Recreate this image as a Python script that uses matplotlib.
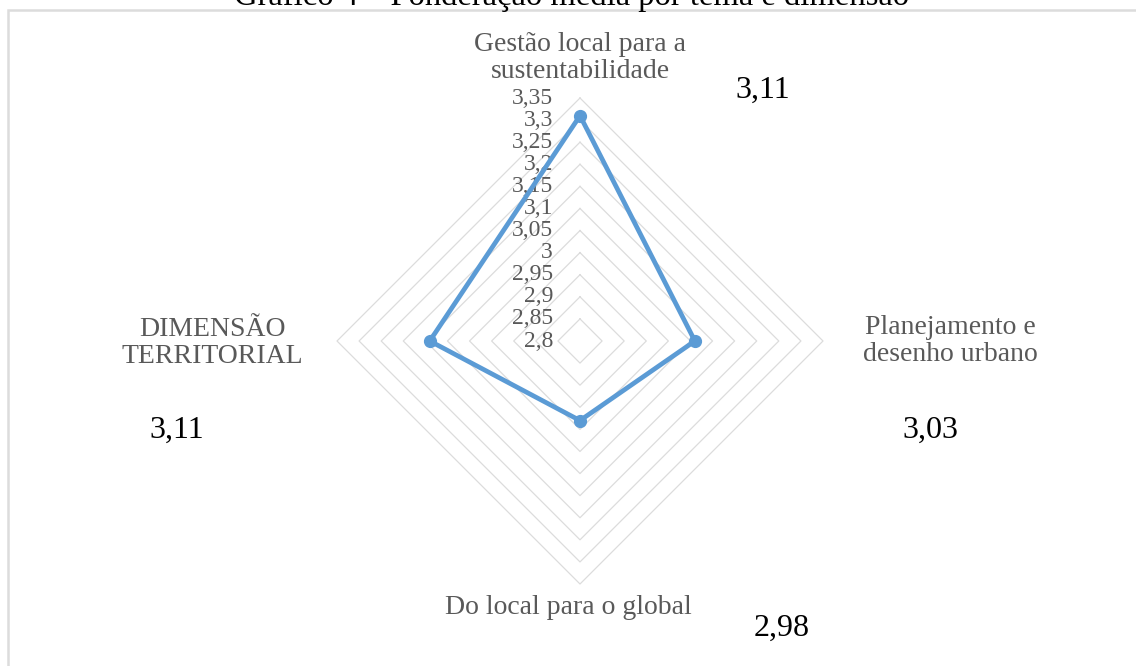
import matplotlib

matplotlib.use("Agg")
import matplotlib.pyplot as plt
import numpy as np
from matplotlib.patches import Rectangle

plt.rcParams["font.family"] = ["Liberation Serif", "DejaVu Serif"]

# mean score per theme (radar axes go clockwise from the top)
categories = [
    "Gestão local para a\nsustentabilidade",
    "Planejamento e\ndesenho urbano",
    "Do local para o global",
    "DIMENSÃO\nTERRITORIAL",
]
scores = [3.31, 3.06, 2.98, 3.14]
value_notes = ["3,11", "3,03", "2,98", "3,11"]
ring_levels = [2.80, 2.85, 2.90, 2.95, 3.00, 3.05, 3.10, 3.15, 3.20, 3.25, 3.30, 3.35]
ring_labels = ["2,8", "2,85", "2,9", "2,95", "3", "3,05", "3,1", "3,15", "3,2", "3,25", "3,3", "3,35"]
title = "Gráfico 4 – Ponderação média por tema e dimensão"

R_MIN, R_MAX = ring_levels[0], ring_levels[-1]
GRID = "#dcdcdc"
LINE = "#5b9bd5"
LABEL = "#595959"

W, H = 1136, 666
fig = plt.figure(figsize=(W / 100, H / 100), dpi=100)


def fpos(x, y):
    """pixel position (from top-left) -> figure fraction"""
    return x / W, 1 - y / H


# radar axes: centre at (580, 341) px, outer ring 243 px away
cx, cy, rad = 580, 341, 243
ax = fig.add_axes([(cx - rad) / W, 1 - (cy + rad) / H, 2 * rad / W, 2 * rad / H])
span = R_MAX - R_MIN
ax.set_xlim(-span, span)
ax.set_ylim(-span, span)
ax.set_aspect("equal")
ax.axis("off")

angles = np.deg2rad([90, 0, -90, 180])
ca, sa = np.cos(angles), np.sin(angles)

# diamond grid rings
for lv in ring_levels[1:]:
    r = lv - R_MIN
    ax.plot(np.append(r * ca, r * ca[0]), np.append(r * sa, r * sa[0]),
            color=GRID, lw=0.9, zorder=1, clip_on=False)

# ring value labels on the vertical axis
for lv, lab in zip(ring_levels, ring_labels):
    ax.text(-0.061, lv - R_MIN, lab, ha="right", va="center", fontsize=17,
            color=LABEL, zorder=2)

# series
r = np.array(scores) - R_MIN
xs, ys = r * ca, r * sa
ax.plot(np.append(xs, xs[0]), np.append(ys, ys[0]), color=LINE, lw=3.4,
        zorder=3, clip_on=False)
ax.plot(xs, ys, "o", color=LINE, ms=8.5, zorder=4, clip_on=False)

# category labels
cat_pos = [(580, 58), (950, 341), (568, 607), (212, 343)]
for (x, y), name in zip(cat_pos, categories):
    fig.text(*fpos(x, y), name, ha="center", va="center", fontsize=20,
             color=LABEL, linespacing=1.12)

# loose value notes
note_pos = [(763, 90), (930, 430), (782, 628), (177, 430)]
for (x, y), note in zip(note_pos, value_notes):
    fig.text(*fpos(x, y), note, ha="center", va="center", fontsize=23, color="black")

# frame and (clipped) caption above it
fig.patches.append(Rectangle(fpos(8, 700), (W + 20) / W, 690 / H,
                             transform=fig.transFigure, fill=False,
                             edgecolor=GRID, lw=1.8))
fig.text(*fpos(572, 5), title, ha="center", va="baseline", fontsize=23.5, color="black")

fig.savefig("out.png", dpi=100)
